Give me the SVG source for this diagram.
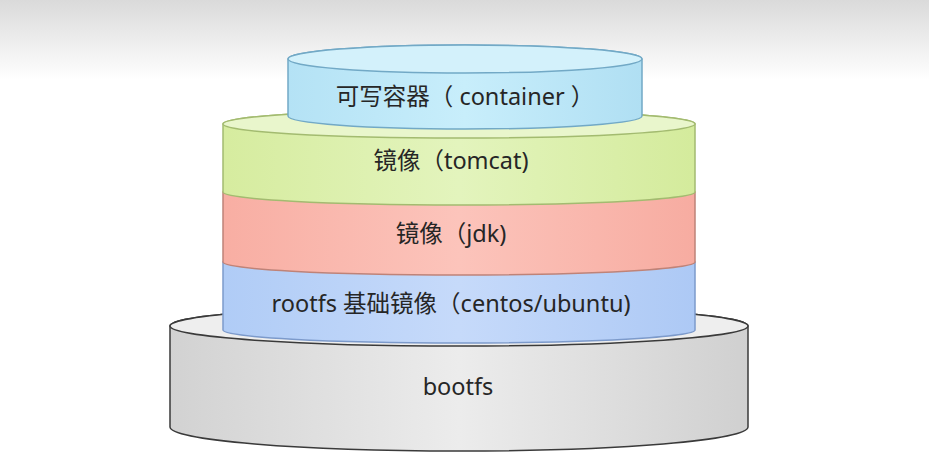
<svg xmlns="http://www.w3.org/2000/svg" width="929" height="469" viewBox="0 0 929 469">
<defs>
<linearGradient id="bg" x1="0" y1="0" x2="0" y2="1">
<stop offset="0" stop-color="#dadada"/><stop offset="1" stop-color="#ffffff"/>
</linearGradient>
<linearGradient id="gC" x1="0" y1="0" x2="1" y2="0">
<stop offset="0" stop-color="#b4e2f5"/><stop offset="0.5" stop-color="#c8eefb"/><stop offset="1" stop-color="#b0dff3"/>
</linearGradient>
<linearGradient id="gT" x1="0" y1="0" x2="1" y2="0">
<stop offset="0" stop-color="#d6ec9f"/><stop offset="0.5" stop-color="#e3f4bd"/><stop offset="1" stop-color="#d4eb9c"/>
</linearGradient>
<linearGradient id="gJ" x1="0" y1="0" x2="1" y2="0">
<stop offset="0" stop-color="#f8aea3"/><stop offset="0.5" stop-color="#fcc4bb"/><stop offset="1" stop-color="#f7aca1"/>
</linearGradient>
<linearGradient id="gR" x1="0" y1="0" x2="1" y2="0">
<stop offset="0" stop-color="#b0ccf6"/><stop offset="0.5" stop-color="#c6dafa"/><stop offset="1" stop-color="#adc9f5"/>
</linearGradient>
<linearGradient id="gB" x1="0" y1="0" x2="1" y2="0">
<stop offset="0" stop-color="#d2d2d2"/><stop offset="0.5" stop-color="#ececec"/><stop offset="1" stop-color="#d0d0d0"/>
</linearGradient>
</defs>
<style>
text{font-family:"Noto Sans","Noto Sans CJK SC",sans-serif;font-size:23.5px;fill:#262626;text-anchor:middle}
.c{stroke:#72a9c6;stroke-width:1.5}
.t{stroke:#a3bb70;stroke-width:1.5}
.j{stroke:#bf8378;stroke-width:1.5}
.r{stroke:#7c9acb;stroke-width:1.5}
.b{stroke:#3a3a3a;stroke-width:1.5}
</style>
<rect x="0" y="0" width="929" height="80" fill="url(#bg)"/>
<rect x="0" y="80" width="929" height="389" fill="#ffffff"/>

<g id="bootfs">
<path class="b" fill="url(#gB)" d="M170,326 L170,427 A289,24 0 0 0 748,427 L748,326 A289,20 0 0 0 170,326 Z"/>
<ellipse class="b" cx="459" cy="326" rx="289" ry="20" fill="#eeeeee"/>
<text x="458" y="395">bootfs</text>
</g>

<g id="rootfs">
<path class="r" fill="url(#gR)" d="M223,262 L223,330 A236,13 0 0 0 695,330 L695,262 A236,13 0 0 0 223,262 Z"/>
<text x="451" y="312">rootfs 基础镜像（centos/ubuntu)</text>
</g>

<g id="jdk">
<path class="j" fill="url(#gJ)" d="M223,192 L223,262 A236,13 0 0 0 695,262 L695,192 A236,13 0 0 0 223,192 Z"/>
<text x="451" y="242">镜像（jdk)</text>
</g>

<g id="tomcat">
<path class="t" fill="url(#gT)" d="M223,124 L223,192 A236,13 0 0 0 695,192 L695,124 A236,14 0 0 0 223,124 Z"/>
<ellipse class="t" cx="459" cy="124" rx="236" ry="14" fill="#e9f6cc"/>
<text x="451" y="169">镜像（tomcat)</text>
</g>

<g id="container">
<path class="c" fill="url(#gC)" d="M288,59 L288,116 A177,13 0 0 0 642,116 L642,59 A177,14 0 0 0 288,59 Z"/>
<ellipse class="c" cx="465" cy="59" rx="177" ry="14" fill="#d3f1fb"/>
<text x="465" y="105">可写容器（ container ）</text>
</g>
</svg>
